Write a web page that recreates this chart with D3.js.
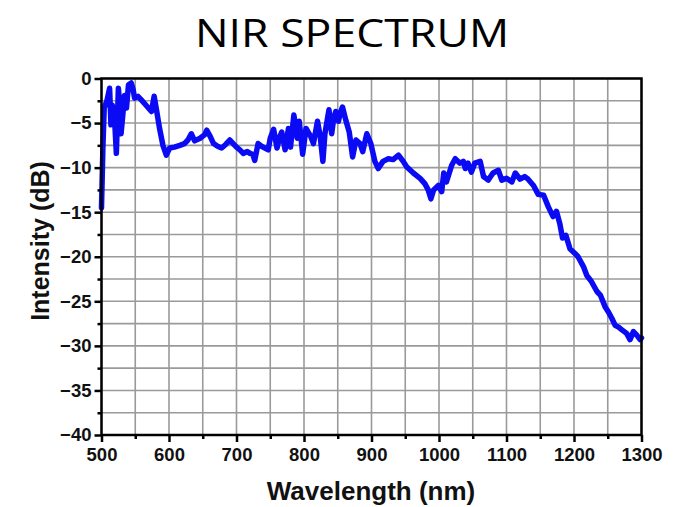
<!DOCTYPE html>
<html><head><meta charset="utf-8">
<script src="https://cdn.jsdelivr.net/npm/d3@7"></script>
<style>body{margin:0;background:#fff}svg{display:block}</style>
</head><body>
<svg id="c" width="683" height="507"></svg>
<script>
const wavelength = [500,502,504,508,512,514,516,519,522,525,527,529,532,534,537,540,544,547,549,554,559,566,574,578,581,586,591,596,601,608,616,623,628,633,638,646,653,656,661,666,672,678,684,690,695,700,705,710,716,720,724,727,732,737,742,747,750,755,760,764,767,772,777,780,785,790,793,798,803,806,810,814,820,824,828,831,837,841,844,847,851,854,857,862,867,872,877,883,887,893,899,905,910,917,925,932,940,947,952,962,972,979,984,988,992,999,1004,1007,1011,1019,1024,1031,1036,1039,1043,1048,1053,1061,1066,1073,1080,1088,1093,1100,1108,1113,1120,1127,1132,1140,1147,1155,1162,1169,1174,1179,1183,1188,1194,1201,1206,1214,1219,1226,1234,1239,1246,1251,1256,1261,1266,1271,1278,1283,1288,1293,1298,1300];
const intensity = [-14.5,-8,-3.3,-2.5,-1.1,-5.2,-3,-4,-8.4,-1.1,-3,-6.2,-3.7,-1.9,-3.3,-0.7,-0.5,-1.3,-2.2,-2.0,-2.4,-3.0,-3.7,-2.0,-3.3,-5.6,-7.5,-8.6,-7.8,-7.7,-7.5,-7.3,-6.9,-6.2,-7.0,-6.7,-6.3,-5.8,-6.5,-7.3,-7.6,-7.8,-7.4,-6.9,-7.3,-7.7,-8.0,-8.4,-8.2,-8.4,-8.5,-9.2,-7.3,-7.6,-7.8,-8.0,-6.7,-5.7,-7.8,-6.6,-6.0,-8.0,-5.6,-7.7,-4.1,-6.7,-4.8,-8.5,-5.6,-6,-6.5,-7.3,-4.8,-6.5,-9.3,-6.2,-3.5,-6.2,-4.5,-3.7,-4.8,-3.8,-3.2,-4.7,-6.0,-8.8,-6.9,-7.3,-8.2,-6.2,-7.3,-9.3,-10.1,-9.3,-9.0,-9.1,-8.6,-9.3,-9.9,-10.6,-11.2,-11.8,-12.5,-13.5,-12.5,-12.0,-12.7,-10.6,-11.6,-9.7,-9.0,-9.5,-9.3,-10.1,-9.5,-10.5,-9.5,-9.3,-11.0,-11.4,-10.6,-10.3,-11.4,-11.2,-11.6,-10.6,-11.3,-11.0,-11.3,-12.0,-13.0,-13.1,-14.4,-15.5,-14.9,-16.3,-17.9,-17.6,-19.1,-19.6,-20.0,-21.1,-22.1,-22.8,-23.9,-24.3,-25.6,-26.2,-26.9,-27.7,-27.9,-28.2,-28.6,-29.3,-28.4,-28.8,-29.3,-29.1];
const xTicks = [500,600,700,800,900,1000,1100,1200,1300];
const yTicks = [0,-5,-10,-15,-20,-25,-30,-35,-40];
const xMinor = [550,650,750,850,950,1050,1150,1250];
const yMinor = [-2.5,-7.5,-12.5,-17.5,-22.5,-27.5,-32.5,-37.5];
const titleText = "NIR SPECTRUM";
const xLabel = "Wavelength (nm)";
const yLabel = "Intensity (dB)";

const svg = d3.select("#c");
const L = 101.5, R = 641.5, T = 78.5, B = 435;
const x = d3.scaleLinear().domain([500,1300]).range([L,R]);
const y = d3.scaleLinear().domain([-40,0]).range([B,T]);

// grid
const g = svg.append("g");
const allX = xTicks.concat(xMinor), allY = yTicks.concat(yMinor);
g.selectAll("line.gx").data(allX).join("line")
  .attr("x1",d=>x(d)).attr("x2",d=>x(d)).attr("y1",T).attr("y2",B)
  .attr("stroke","#9a9a9a").attr("stroke-width",1.6);
g.selectAll("line.gy").data(allY).join("line")
  .attr("y1",d=>y(d)).attr("y2",d=>y(d)).attr("x1",L).attr("x2",R)
  .attr("stroke","#9a9a9a").attr("stroke-width",1.6);

// data line
const line = d3.line().x((d,i)=>x(wavelength[i])).y(d=>y(d));
svg.append("path").datum(intensity).attr("d",line)
  .attr("fill","none").attr("stroke","#0a0af5").attr("stroke-width",5.5)
  .attr("stroke-linejoin","round").attr("stroke-linecap","round");

// frame
svg.append("rect").attr("x",L).attr("y",T).attr("width",R-L).attr("height",B-T)
  .attr("fill","none").attr("stroke","#000").attr("stroke-width",2.5);

// axes
const fontTick = "'Liberation Sans', Arial, sans-serif";
const xAxis = svg.append("g").attr("transform",`translate(0,${B})`)
  .call(d3.axisBottom(x).tickValues(xTicks).tickSize(7).tickPadding(6).tickFormat(d3.format("d")));
const xAxisMinor = svg.append("g").attr("transform",`translate(0,${B})`)
  .call(d3.axisBottom(x).tickValues(xMinor).tickSize(4).tickFormat(""));
const yAxis = svg.append("g").attr("transform",`translate(${L},0)`)
  .call(d3.axisLeft(y).tickValues(yTicks).tickSize(7).tickPadding(3).tickFormat(d3.format("d")));
const yAxisMinor = svg.append("g").attr("transform",`translate(${L},0)`)
  .call(d3.axisLeft(y).tickValues(yMinor).tickSize(4).tickFormat(""));
[xAxis,xAxisMinor,yAxis,yAxisMinor].forEach(a=>{
  a.select(".domain").remove();
  a.selectAll(".tick line").attr("stroke","#000").attr("stroke-width",2.5);
  a.selectAll("text").attr("font-family",fontTick).attr("font-weight","bold")
   .attr("font-size",18.5).attr("fill","#111");
});

// titles
svg.append("text").attr("x",352).attr("y",47).attr("text-anchor","middle")
  .attr("font-family","'Open Sans', 'Liberation Sans', sans-serif").attr("font-size",38)
  .attr("textLength",314).attr("lengthAdjust","spacingAndGlyphs")
  .attr("fill","#000").text(titleText);
svg.append("text").attr("x",371).attr("y",500).attr("text-anchor","middle")
  .attr("font-family",fontTick).attr("font-weight","bold").attr("font-size",26)
  .attr("fill","#111").text(xLabel);
svg.append("text").attr("transform","translate(49,241) rotate(-90)").attr("text-anchor","middle")
  .attr("font-family",fontTick).attr("font-weight","bold").attr("font-size",25)
  .attr("fill","#111").text(yLabel);
</script>
</body></html>
